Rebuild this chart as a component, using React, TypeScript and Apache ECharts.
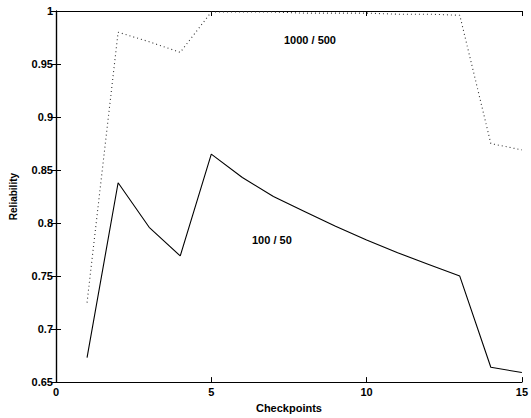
import React, { useEffect, useRef } from "react";
import * as echarts from "echarts";

const checkpoints = [1, 2, 3, 4, 5, 6, 7, 8, 9, 10, 11, 12, 13, 14, 15];
const rel100_50 = [0.673, 0.838, 0.796, 0.769, 0.865, 0.843, 0.825, 0.811, 0.797, 0.784, 0.772, 0.761, 0.75, 0.664, 0.659];
const rel1000_500 = [0.725, 0.98, 0.971, 0.961, 0.999, 0.999, 0.999, 0.998, 0.998, 0.998, 0.997, 0.997, 0.996, 0.875, 0.869];
const yTicks = ["0.65", "0.7", "0.75", "0.8", "0.85", "0.9", "0.95", "1"];

const FONT = "Liberation Sans";

export default function App() {
  const ref = useRef<HTMLDivElement>(null);
  useEffect(() => {
    const chart = echarts.init(ref.current!, null, { renderer: "svg" });
    const axisLine = { show: true, lineStyle: { color: "#000", width: 1.2 } };
    const tick = { show: true, inside: true, length: 5, lineStyle: { color: "#000", width: 1 } };
    chart.setOption({
      animation: false,
      backgroundColor: "#fff",
      grid: { left: 52, right: 3, top: 11, bottom: 35, containLabel: false },
      xAxis: [
        {
          type: "value", min: 0, max: 15, interval: 5, position: "bottom",
          axisLine, axisTick: tick, splitLine: { show: false },
          axisLabel: { color: "#000", fontFamily: FONT, fontWeight: "bold", fontSize: 11, margin: 4 },
          name: "Checkpoints", nameLocation: "middle", nameGap: 19,
          nameTextStyle: { color: "#000", fontFamily: FONT, fontWeight: "bold", fontSize: 11 },
        },
        {
          type: "value", min: 0, max: 15, interval: 5, position: "top",
          axisLine, axisTick: tick, splitLine: { show: false }, axisLabel: { show: false },
        },
      ],
      yAxis: [
        {
          type: "value", min: 0.65, max: 1, interval: 0.05, position: "left",
          axisLine, axisTick: tick, splitLine: { show: false },
          axisLabel: {
            color: "#000", fontFamily: FONT, fontWeight: "bold", fontSize: 11, margin: 3,
            formatter: (v: number) => yTicks[Math.round((v - 0.65) / 0.05)] ?? "",
          },
          name: "Reliability", nameLocation: "middle", nameGap: 38, nameRotate: 90,
          nameTextStyle: { color: "#000", fontFamily: FONT, fontWeight: "bold", fontSize: 10 },
        },
        {
          type: "value", min: 0.65, max: 1, interval: 0.05, position: "right",
          axisLine, axisTick: tick, splitLine: { show: false }, axisLabel: { show: false },
        },
      ],
      series: [
        {
          type: "line", name: "100 / 50", xAxisIndex: 0, yAxisIndex: 0,
          data: checkpoints.map((c, i) => [c, rel100_50[i]]),
          symbol: "none", lineStyle: { color: "#000", width: 1.1, type: "solid" },
          markPoint: undefined,
        },
        {
          type: "line", name: "1000 / 500", xAxisIndex: 0, yAxisIndex: 0,
          data: checkpoints.map((c, i) => [c, rel1000_500[i]]),
          symbol: "none", lineStyle: { color: "#333", width: 1.1, type: [1, 3] },
        },
      ],
      graphic: [
        { type: "text", left: 284, top: 34, style: { text: "1000 / 500", fill: "#000", font: `bold 11px "${FONT}"` } },
        { type: "text", left: 252, top: 234, style: { text: "100 / 50", fill: "#000", font: `bold 11px "${FONT}"` } },
      ],
    });
    return () => chart.dispose();
  }, []);
  return <div ref={ref} style={{ position: "fixed", left: 0, top: 0, width: 531, height: 418 }} />;
}
